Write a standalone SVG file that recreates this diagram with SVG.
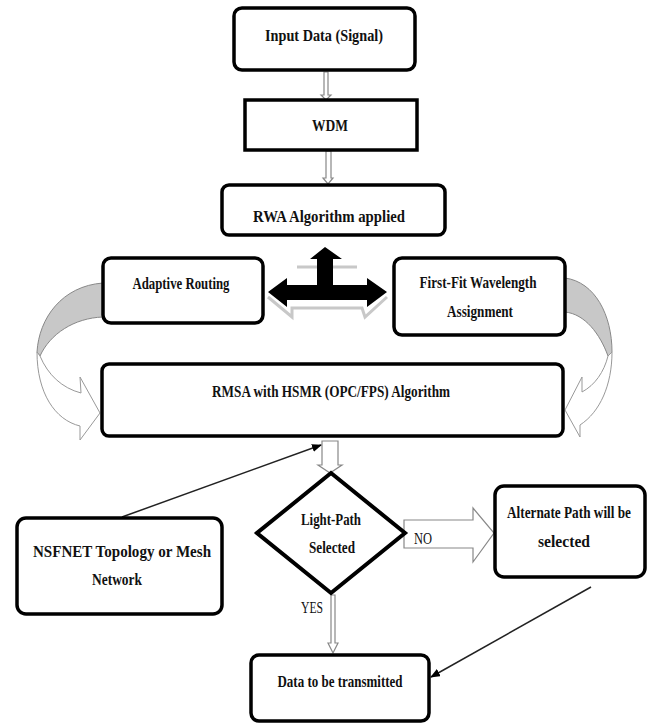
<svg xmlns="http://www.w3.org/2000/svg" width="651" height="724" viewBox="0 0 651 724">
<defs>
<style>
.box{fill:#fff;stroke:#000;stroke-width:3.5}
.t{font-family:"Liberation Serif","Times New Roman",serif;font-size:17px;font-weight:bold;fill:#111;text-anchor:middle}
.r{font-family:"Liberation Serif","Times New Roman",serif;font-size:16px;fill:#111}
.hol{fill:#fff;stroke:#888;stroke-width:1.2}
.band{fill:#c8c8c8;stroke:#888;stroke-width:1}
.curve{fill:#fff;stroke:#999;stroke-width:1}
.ln{stroke:#222;stroke-width:1.5;fill:none;marker-end:url(#ah)}
</style>
<marker id="ah" markerWidth="10" markerHeight="8" refX="9" refY="4" orient="auto" markerUnits="userSpaceOnUse">
<path d="M0,0 L10,4 L0,8 Z" fill="#000"/>
</marker>
</defs>
<rect width="651" height="724" fill="#fff"/>

<g id="connectors">
<path class="hol" d="M324,72 V95 H321 L326,100 L331,95 H328 V72 Z"/>
<path class="hol" d="M326,151 V178 H323 L328,184 L333,178 H331 V151 Z"/>
<path d="M297,267 H357" stroke="#c8c8c8" stroke-width="3" fill="none"/>
<path d="M268,297 L292,317 L292,308 H362 L365,317 L387,297" stroke="#c8c8c8" stroke-width="3" fill="none"/>
<path d="M325,247 L342,259 H333 V285 H367 V278 L387,292 L367,307 V300 H287 V307 L268,292 L287,278 V285 H317 V259 H310 Z" fill="#000"/>
<path class="band" d="M103,283 C62,286 39,318 37,352 L40,356 C50,334 74,318 103,317 Z"/>
<path class="curve" d="M40,356 C48,375 62,388 81,393 L80,377 L100,413 L80,440 L80,426 C55,420 37,393 37,352 Z"/>
<path class="band" d="M565,278 C595,282 612,315 612,352 L608,356 C600,334 585,314 565,312 Z"/>
<path class="curve" d="M608,356 C604,372 595,385 582,392 L582,377 L565,410 L580,437 L580,425 C600,412 612,385 612,352 Z"/>
<path class="hol" d="M322,441 V465 H318 L330,473 L342,465 H338 V441 Z"/>
<path class="ln" d="M122,517 L321,445"/>
<path class="hol" d="M404,520 H473 V508 L494,533 L473,562 V548 H404 Z"/>
<path class="hol" d="M331,595 V643 H328 L333,653 L338,643 H335 V595 Z"/>
<path class="ln" d="M591,587 L431,677"/>
<text class="r" x="414" y="544" textLength="18" lengthAdjust="spacingAndGlyphs">NO</text>
<text class="r" x="301" y="613" textLength="22" lengthAdjust="spacingAndGlyphs">YES</text>
</g>

<g id="input">
<rect class="box" x="234" y="8" width="181" height="62" rx="8"/>
<text class="t" x="324" y="41" textLength="118" lengthAdjust="spacingAndGlyphs">Input Data (Signal)</text>
</g>
<g id="wdm">
<rect class="box" x="245" y="100" width="172" height="50"/>
<text class="t" x="330" y="131" textLength="36" lengthAdjust="spacingAndGlyphs">WDM</text>
</g>
<g id="rwa">
<rect class="box" x="222" y="185" width="223" height="50" rx="7"/>
<text class="t" x="329" y="222" textLength="152" lengthAdjust="spacingAndGlyphs">RWA Algorithm applied</text>
</g>
<g id="adaptive">
<rect class="box" x="103" y="258" width="160" height="65" rx="8"/>
<text class="t" x="181" y="289" textLength="97" lengthAdjust="spacingAndGlyphs">Adaptive Routing</text>
</g>
<g id="firstfit">
<rect class="box" x="394" y="258" width="171" height="77" rx="8"/>
<text class="t" x="478" y="288" textLength="117" lengthAdjust="spacingAndGlyphs">First-Fit Wavelength</text>
<text class="t" x="480" y="317" textLength="66" lengthAdjust="spacingAndGlyphs">Assignment</text>
</g>
<g id="rmsa">
<rect class="box" x="102" y="364" width="461" height="72" rx="7"/>
<text class="t" x="331" y="397" textLength="238" lengthAdjust="spacingAndGlyphs">RMSA with HSMR (OPC/FPS) Algorithm</text>
</g>
<g id="decision">
<path d="M331,473 L405,533 L331,593 L257,533 Z" fill="#fff" stroke="#000" stroke-width="4"/>
<text class="t" x="331" y="525" textLength="60" lengthAdjust="spacingAndGlyphs">Light-Path</text>
<text class="t" x="332" y="553" textLength="46" lengthAdjust="spacingAndGlyphs">Selected</text>
</g>
<g id="alternate">
<rect class="box" x="495" y="486" width="150" height="91" rx="9"/>
<text class="t" transform="translate(569,518) scale(0.78,1)" x="0" y="0" font-size="16">Alternate Path will be</text>
<text class="t" x="564" y="547" textLength="52" lengthAdjust="spacingAndGlyphs">selected</text>
</g>
<g id="nsfnet">
<rect class="box" x="17" y="518" width="205" height="96" rx="9"/>
<text class="t" x="122" y="557" textLength="178" lengthAdjust="spacingAndGlyphs">NSFNET  Topology or Mesh</text>
<text class="t" x="117" y="585" textLength="50" lengthAdjust="spacingAndGlyphs">Network</text>
</g>
<g id="data">
<rect class="box" x="251" y="655" width="178" height="66" rx="8"/>
<text class="t" x="340" y="687" textLength="125" lengthAdjust="spacingAndGlyphs">Data to be transmitted</text>
</g>
</svg>
